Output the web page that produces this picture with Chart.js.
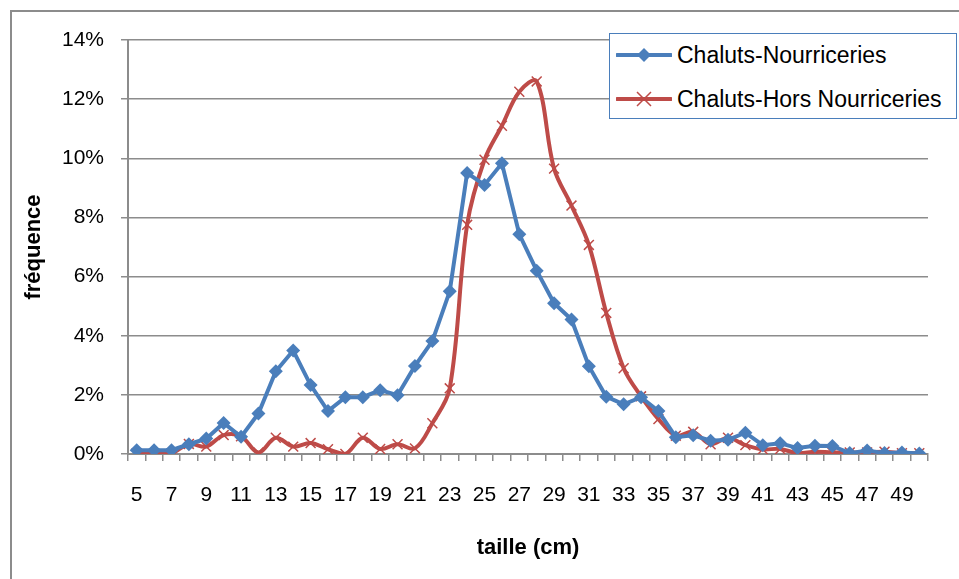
<!DOCTYPE html>
<html>
<head>
<meta charset="utf-8">
<script src="https://cdn.jsdelivr.net/npm/chart.js@4"></script>
<style>
  body { margin: 0; background: #fff; }
  #wrap { position: relative; width: 959px; height: 579px; }
  #frame { position: absolute; left: 10px; top: 10px; right: 0; bottom: 0;
           border-left: 2px solid #8c8c8c; border-top: 2px solid #8c8c8c; }
  #legend { position: absolute; left: 609px; top: 33px; width: 346px; height: 84px;
            border: 1.5px solid #4a7ebb; background: #fff;
            font-family: "Liberation Sans", Arial, sans-serif; font-size: 23px; color: #000; }
  .row { position: absolute; left: 6px; height: 30px; display: flex; align-items: center; }
  .row svg { margin-right: 5px; }
</style>
</head>
<body>
<div id="wrap">
  <div id="frame"></div>
  <canvas id="chart" width="959" height="579"></canvas>
  <div id="legend">
    <div class="row" style="top:6px">
      <svg width="56" height="20"><line x1="1" y1="10" x2="55" y2="10" stroke="#4a7ebb" stroke-width="4" stroke-linecap="round"/><polygon points="28,3 35,10 28,17 21,10" fill="#4a7ebb"/></svg>
      <span id="lab0"></span>
    </div>
    <div class="row" style="top:50px">
      <svg width="56" height="20"><line x1="1" y1="10" x2="55" y2="10" stroke="#be4b48" stroke-width="4" stroke-linecap="round"/><path d="M21,3 L35,17 M35,3 L21,17" stroke="#be4b48" stroke-width="1.5"/></svg>
      <span id="lab1"></span>
    </div>
  </div>
</div>
<script>
const sizes = ['5','6','7','8','9','10','11','12','13','14','15','16','17','18','19','20','21','22','23','24','25','26','27',
  '28','29','30','31','32','33','34','35','36','37','38','39','40','41','42','43','44','45','46','47','48','49','50'];

const seriesNames = ['Chaluts-Nourriceries', 'Chaluts-Hors Nourriceries'];

// fréquence en %
const nourriceries = [0.13, 0.13, 0.13, 0.33, 0.52, 1.05, 0.58, 1.37, 2.8, 3.5, 2.33, 1.45, 1.92, 1.92, 2.16, 1.99,
  2.98, 3.82, 5.5, 9.5, 9.1, 9.83, 7.43, 6.2, 5.1, 4.55, 2.97, 1.94, 1.68, 1.92, 1.45,
  0.57, 0.63, 0.45, 0.48, 0.72, 0.3, 0.36, 0.2, 0.28, 0.27, 0.03, 0.12, 0.03, 0.05, 0.02];
const horsNourriceries = [0.03, 0.02, 0.02, 0.34, 0.25, 0.64, 0.6, 0.05, 0.55, 0.25, 0.37, 0.16, 0.0, 0.55, 0.17, 0.33,
  0.19, 1.04, 2.22, 7.75, 9.95, 11.1, 12.25, 12.6, 9.65, 8.4, 7.07, 4.77, 2.9, 1.95, 1.18,
  0.62, 0.75, 0.33, 0.55, 0.3, 0.16, 0.17, 0.03, 0.08, 0.05, 0.05, 0.05, 0.08, 0.03, 0.03];

const yTicks = [0, 2, 4, 6, 8, 10, 12, 14];

document.getElementById('lab0').textContent = seriesNames[0];
document.getElementById('lab1').textContent = seriesNames[1];

const grey = '#8c8c8c';
const font = "'Liberation Sans', Arial, sans-serif";

new Chart(document.getElementById('chart'), {
  type: 'line',
  data: {
    labels: sizes,
    datasets: [{
      label: seriesNames[0],
      data: nourriceries,
      borderColor: '#4a7ebb',
      backgroundColor: '#4a7ebb',
      borderWidth: 4,
      tension: 0,
      pointStyle: 'rectRot',
      pointRadius: 7,
      pointBorderWidth: 0
    }, {
      label: seriesNames[1],
      data: horsNourriceries,
      borderColor: '#be4b48',
      backgroundColor: '#be4b48',
      borderWidth: 4,
      tension: 0.35,
      pointStyle: 'crossRot',
      pointRadius: 7,
      pointBorderWidth: 1.5
    }]
  },
  options: {
    responsive: false,
    animation: false,
    layout: { padding: { left: 0, top: 40, right: 31, bottom: 0 } },
    plugins: { legend: { display: false }, tooltip: { enabled: false } },
    scales: {
      x: {
        offset: true,
        afterFit: (s) => { s.height = 125; },
        grid: { offset: true, drawOnChartArea: false, color: grey, lineWidth: 1.5, tickLength: 7 },
        border: { color: grey, width: 2 },
        ticks: {
          autoSkip: false, maxRotation: 0, padding: 22, color: '#000',
          font: { family: font, size: 21 },
          callback: (v, i) => (i % 2 === 0 ? sizes[i] : '')
        },
        title: {
          display: true, text: 'taille (cm)', color: '#000',
          font: { family: font, size: 22, weight: 'bold' },
          padding: { top: 0, bottom: 18 }
        }
      },
      y: {
        min: 0, max: 14,
        afterFit: (s) => { s.width = 128; },
        afterBuildTicks: (s) => { s.ticks = yTicks.map(v => ({ value: v })); },
        grid: { color: grey, lineWidth: 1.5, tickLength: 7 },
        border: { color: grey, width: 2 },
        ticks: {
          padding: 17, color: '#000',
          font: { family: font, size: 21 },
          callback: (v) => v + '%'
        },
        title: {
          display: true, text: 'fréquence', color: '#000',
          font: { family: font, size: 22, weight: 'bold' },
          padding: { top: 21, bottom: 0 }
        }
      }
    }
  }
});
</script>
</body>
</html>
